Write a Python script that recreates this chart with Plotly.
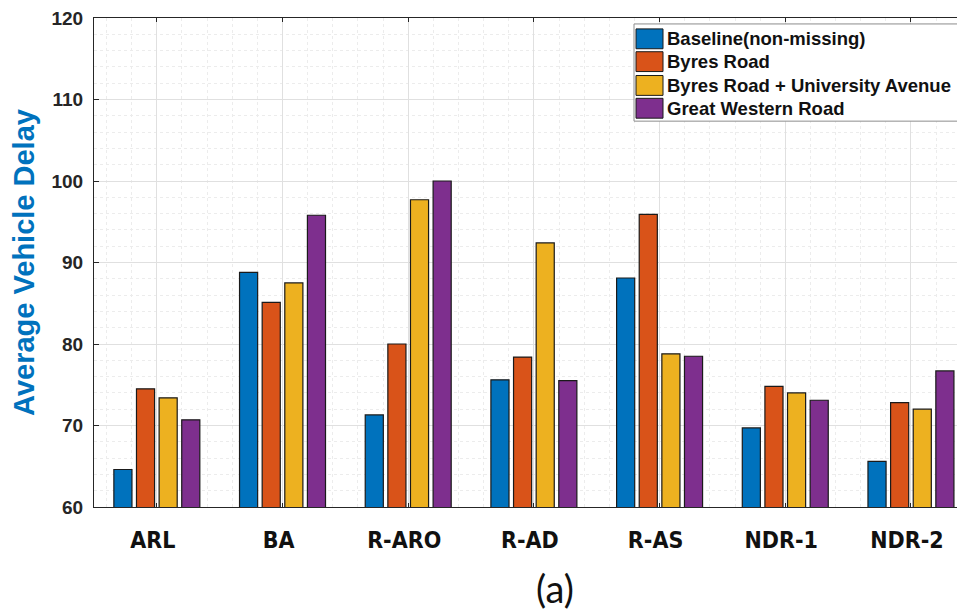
import plotly.graph_objects as go

categories = ["ARL", "BA", "R-ARO", "R-AD", "R-AS", "NDR-1", "NDR-2"]
series_names = ["Baseline(non-missing)", "Byres Road",
                "Byres Road + University Avenue", "Great Western Road"]
baseline = [64.6, 88.8, 71.3, 75.6, 88.1, 69.7, 65.6]
byres = [74.5, 85.1, 80.0, 78.4, 95.9, 74.8, 72.8]
byres_univ = [73.4, 87.5, 97.7, 92.4, 78.8, 74.0, 72.0]
great_western = [70.7, 95.8, 100.0, 75.5, 78.5, 73.1, 76.7]
y_ticks = [60, 70, 80, 90, 100, 110, 120]

colors = ["#0072BD", "#D95319", "#EDB120", "#7E2F8E"]
x_pos = list(range(len(categories)))

fig = go.Figure()
for name, vals, col in zip(series_names, [baseline, byres, byres_univ, great_western], colors):
    fig.add_trace(go.Bar(
        x=x_pos, y=vals, name=name, showlegend=False,
        marker=dict(color=col, line=dict(color="#1a1a1a", width=1.2)),
    ))

axis_col = "#262626"

# plot area in page pixels (page body adds an 8px offset)
PL, PR, PT, PB = 94, 965, 14, 507


def px_x(p):
    return (p - PL) / (PR - PL)


def px_y(p):
    return (PB - p) / (PB - PT)


# legend box drawn in paper coordinates
shapes = [dict(type="rect", xref="paper", yref="paper",
               x0=px_x(634), x1=px_x(960), y0=px_y(20), y1=px_y(118),
               fillcolor="white", line=dict(color="#8c8c8c", width=1), layer="above")]
annotations = []
row_c = [35, 58, 82, 105]
for name, col, yc in zip(series_names, colors, row_c):
    shapes.append(dict(type="rect", xref="paper", yref="paper",
                       x0=px_x(636), x1=px_x(663), y0=px_y(yc + 10), y1=px_y(yc - 10),
                       fillcolor=col, line=dict(color="#1a1a1a", width=1), layer="above"))
    annotations.append(dict(text=name, xref="paper", yref="paper",
                            x=px_x(665), y=px_y(yc), xanchor="left", yanchor="middle",
                            showarrow=False,
                            font=dict(family="Liberation Sans, Arial, sans-serif", size=18.5,
                                      color="#111111", weight="bold")))

annotations.append(dict(
    text="(a)", xref="paper", yref="paper", x=0.529, y=-0.166,
    xanchor="center", yanchor="middle", showarrow=False,
    font=dict(family="Lato, Open Sans, sans-serif", size=38, color="#111111"),
))

fig.update_layout(
    width=957, height=604,
    margin=dict(l=86, r=0, t=6, b=105),
    paper_bgcolor="white", plot_bgcolor="white",
    barmode="group", bargap=0.28, bargroupgap=0.2,
    font=dict(family="Liberation Sans, Arial, sans-serif", color=axis_col),
    showlegend=False,
    xaxis=dict(
        range=[-0.5, 6.43],
        tickvals=x_pos, ticktext=categories,
        tickfont=dict(family="DejaVu Sans Condensed, Liberation Sans Narrow, sans-serif",
                      size=23, color="#111111", weight="bold"),
        ticks="inside", ticklen=4, tickcolor=axis_col,
        ticklabelstandoff=12, ticklabelshift=-4,
        showgrid=True, gridcolor="#e0e0e0", gridwidth=1,
        minor=dict(dtick=0.2, tick0=0, showgrid=True, gridcolor="#ececec",
                   griddash="dot", gridwidth=1, ticks=""),
        showline=True, linecolor=axis_col, linewidth=1.2, mirror="ticks",
        zeroline=False,
    ),
    yaxis=dict(
        range=[60, 120],
        tickvals=y_ticks,
        tickfont=dict(family="Liberation Sans, Arial, sans-serif", size=19,
                      color=axis_col, weight="bold"),
        ticks="inside", ticklen=5, tickcolor=axis_col,
        ticklabelstandoff=6, ticklabeloverflow="allow",
        showgrid=True, gridcolor="#e0e0e0", gridwidth=1,
        minor=dict(dtick=2, showgrid=True, gridcolor="#ececec",
                   griddash="dot", gridwidth=1, ticks=""),
        showline=True, linecolor=axis_col, linewidth=1.2,
        zeroline=False,
        title=dict(text="Average Vehicle Delay", standoff=12,
                   font=dict(family="Liberation Sans, Arial, sans-serif", size=29,
                             color="#0072BD", weight="bold")),
    ),
    shapes=shapes,
    annotations=annotations,
)

fig.write_html("out.html")
